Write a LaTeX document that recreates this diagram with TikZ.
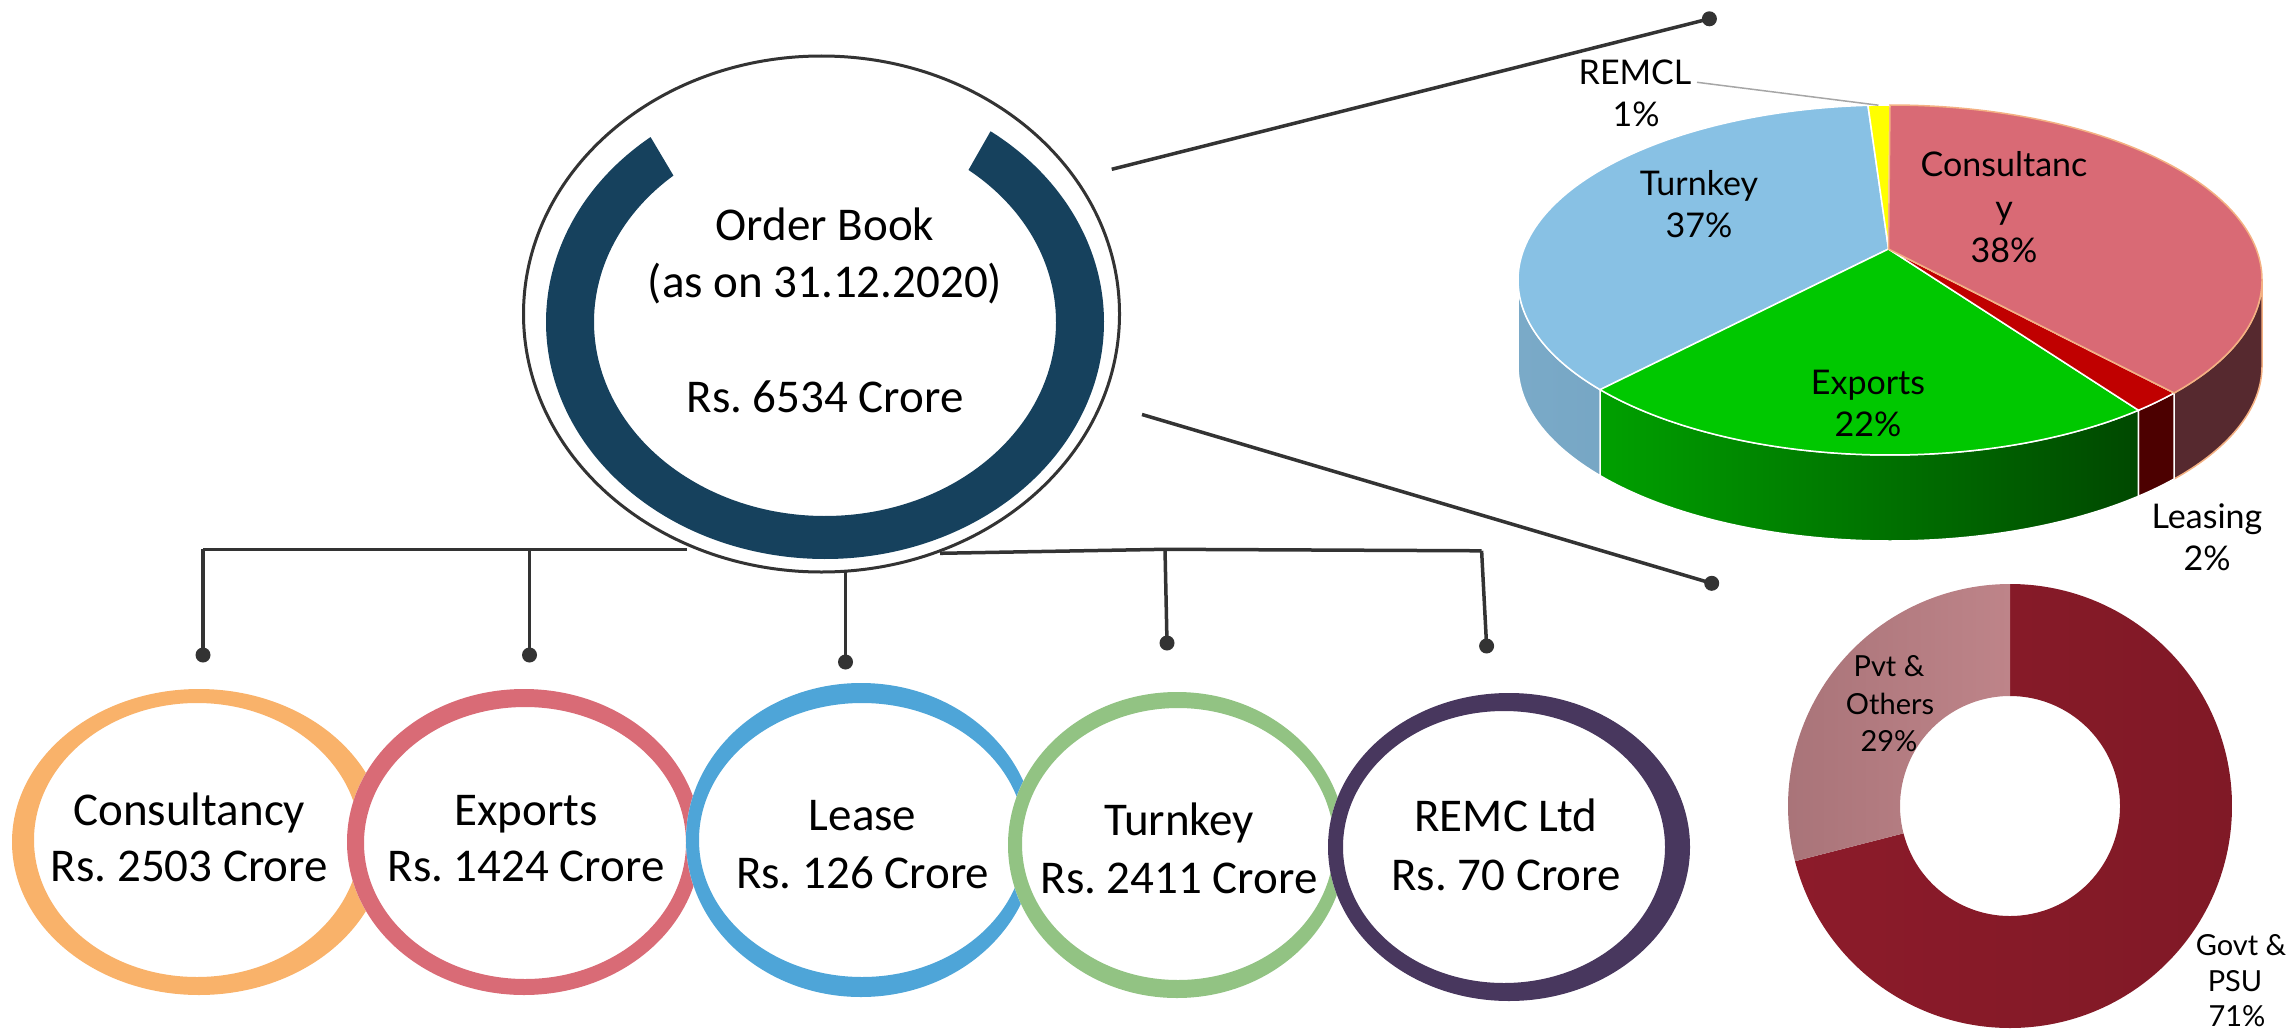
\documentclass[tikz,border=0pt]{standalone}
\usepackage{fontspec}
\setmainfont{Carlito}
\newfontfamily\gillfont{Lato}
\usetikzlibrary{shapes.geometric,calc}
\frenchspacing
\definecolor{lineg}{RGB}{51,51,51}
\definecolor{arcblue}{RGB}{22,65,93}
\definecolor{ringor}{RGB}{249,178,106}
\definecolor{ringred}{RGB}{217,107,118}
\definecolor{ringblue}{RGB}{78,165,216}
\definecolor{ringgreen}{RGB}{146,195,131}
\definecolor{ringpurple}{RGB}{72,55,94}
\definecolor{piecons}{RGB}{217,106,117}
\definecolor{piecside}{RGB}{86,41,47}
\definecolor{pielease}{RGB}{192,0,0}
\definecolor{pielside}{RGB}{76,0,0}
\definecolor{pieexp}{RGB}{0,200,0}
\definecolor{pieexpL}{RGB}{0,160,0}
\definecolor{pieexpR}{RGB}{0,72,0}
\definecolor{pieturn}{RGB}{136,193,228}
\definecolor{pietsL}{RGB}{122,170,200}
\definecolor{pietsR}{RGB}{108,154,185}
\definecolor{pieremcl}{RGB}{255,255,0}
\definecolor{consedge}{RGB}{244,177,131}
\definecolor{govL}{RGB}{140,27,42}
\definecolor{govM}{RGB}{152,28,44}
\definecolor{govR}{RGB}{128,25,38}
\definecolor{pvtL}{RGB}{168,115,120}
\definecolor{pvtR}{RGB}{190,132,137}
\definecolor{leader}{RGB}{166,166,166}
\begin{document}
\begin{tikzpicture}[x=1pt,y=-1pt,
  conn/.style={draw=lineg, line width=3.5pt},
  dotn/.style={circle, fill=lineg, inner sep=0pt, minimum size=15pt},
  btxt/.style={font=\fontsize{47}{57}\selectfont, anchor=base, inner sep=0pt},
  ptxt/.style={font=\gillfont\fontsize{34}{40}\selectfont, anchor=base, inner sep=0pt},
  dtxt/.style={font=\gillfont\fontsize{29}{34}\selectfont, anchor=base, inner sep=0pt},
  slice/.style={draw=white, line width=1.5pt},
]
\useasboundingbox (0,0) rectangle (2291,1033);

% ---------- main order book circle ----------
\node[draw=lineg, line width=3pt, ellipse, minimum width=596pt, minimum height=516pt, inner sep=0pt] (ob) at (821.5,314) {};
\fill[arcblue] (825,322) ++(231.3:279 and 237)
  arc[start angle=231.3, end angle=-53.6, x radius=279, y radius=237]
  -- ($(825,322)+(-51.6:231 and 194)$)
  arc[start angle=-51.6, end angle=229, x radius=231, y radius=194] -- cycle;
\node[btxt] (ob1) at (825,240) {Order Book};
\node[btxt] (ob2) at (825,297.6) {(as on 31.12.2020)};
\node[btxt] (ob3) at (825,412.3) {Rs. 6534 Crore};

% ---------- connectors ----------
\coordinate (busL) at (687,549.4);
\coordinate (busR) at (940,553.3);
\coordinate (j1) at (203,549.4);
\coordinate (j2) at (529.5,549.4);
\coordinate (j3) at (845.5,571);
\coordinate (j4) at (1165,549.3);
\coordinate (j5) at (1481.6,550.8);
\node[dotn] (d1) at (203,655) {};
\node[dotn] (d2) at (529.5,655) {};
\node[dotn] (d3) at (845.5,662) {};
\node[dotn] (d4) at (1167,643) {};
\node[dotn] (d5) at (1486.6,646) {};
\draw[conn] (busL) -- (j1);
\draw[conn] (busR) -- (j4) -- (j5);
\draw[conn] (j1) -- (d1.center);
\draw[conn] (j2) -- (d2.center);
\draw[conn] (j3) -- (d3.center);
\draw[conn] (j4) -- (d4.center);
\draw[conn] (j5) -- (d5.center);
\coordinate (tlS) at (1111.7,169.3);
\coordinate (blS) at (1142,414.5);
\node[dotn] (pdt) at (1709.4,18.8) {};
\node[dotn] (pdb) at (1711.7,583.3) {};
\draw[conn] (tlS) -- (pdt.center);
\draw[conn] (blS) -- (pdb.center);

% ---------- bottom rings ----------
\fill[white] (199,842) ellipse (187 and 153);
\fill[ringor, even odd rule] (199,842) ellipse (187 and 153) (197,840) ellipse (163 and 137);
\fill[white] (524,842) ellipse (177 and 153);
\fill[ringred, even odd rule] (524,842) ellipse (177 and 153) (525,843) ellipse (161 and 136);
\fill[white] (861,840) ellipse (175 and 157);
\fill[ringblue, even odd rule] (861,840) ellipse (175 and 157) (862,840) ellipse (163 and 137);
\fill[white] (1177,845) ellipse (169 and 153);
\fill[ringgreen, even odd rule] (1177,845) ellipse (169 and 153) (1178,844) ellipse (156 and 136);
\fill[white] (1509,847) ellipse (181 and 154);
\fill[ringpurple, even odd rule] (1509,847) ellipse (181 and 154) (1504,847) ellipse (161 and 136);

\node[btxt] (c1a) at (189.4,825) {Consultancy};
\node[btxt] (c1b) at (189.4,881.7) {Rs. 2503 Crore};
\node[btxt] (c2a) at (526,825) {Exports};
\node[btxt] (c2b) at (526,881.7) {Rs. 1424 Crore};
\node[btxt] (c3a) at (862.6,830) {Lease};
\node[btxt] (c3b) at (862.6,888.3) {Rs. 126 Crore};
\node[btxt] (c4a) at (1179,835) {Turnkey};
\node[btxt] (c4b) at (1179,893.3) {Rs. 2411 Crore};
\node[btxt] (c5a) at (1506,831.7) {REMC Ltd};
\node[btxt] (c5b) at (1506,890) {Rs. 70 Crore};

% ---------- 3D pie ----------
\coordinate (pieO) at (1890,280);
\coordinate (pieP) at (1888.5,249);
% sides
\filldraw[fill=piecside, draw=consedge, line width=1.5pt] (pieO) ++(0:372 and 175)
  arc[start angle=0, end angle=40.2, x radius=372, y radius=175] -- ++(0,86)
  arc[start angle=40.2, end angle=0, x radius=372, y radius=175] -- cycle;
\filldraw[fill=pielside, slice] (pieO) ++(40.2:372 and 175)
  arc[start angle=40.2, end angle=48.1, x radius=372, y radius=175] -- ++(0,86)
  arc[start angle=48.1, end angle=40.2, x radius=372, y radius=175] -- cycle;
\shadedraw[left color=pieexpL, right color=pieexpR, slice] (pieO) ++(48.1:372 and 175)
  arc[start angle=48.1, end angle=141.2, x radius=372, y radius=175] -- ++(0,86)
  arc[start angle=141.2, end angle=48.1, x radius=372, y radius=175] -- cycle;
\shadedraw[left color=pietsL, right color=pietsR, slice] (pieO) ++(141.2:372 and 175)
  arc[start angle=141.2, end angle=180, x radius=372, y radius=175] -- ++(0,86)
  arc[start angle=180, end angle=141.2, x radius=372, y radius=175] -- cycle;
% tops
\filldraw[fill=pieturn, slice] (pieP) -- ($(pieO)+(141.2:372 and 175)$)
  arc[start angle=141.2, end angle=266.6, x radius=372, y radius=175] -- cycle;
\filldraw[fill=pieexp, slice] (pieP) -- ($(pieO)+(48.1:372 and 175)$)
  arc[start angle=48.1, end angle=141.2, x radius=372, y radius=175] -- cycle;
\filldraw[fill=pielease, slice] (pieP) -- ($(pieO)+(40.2:372 and 175)$)
  arc[start angle=40.2, end angle=48.1, x radius=372, y radius=175] -- cycle;
\filldraw[fill=pieremcl, slice] (pieP) -- ($(pieO)+(266.6:372 and 175)$)
  arc[start angle=266.6, end angle=270, x radius=372, y radius=175] -- cycle;
\filldraw[fill=piecons, draw=consedge, line width=1.5pt] (pieP) -- ($(pieO)+(-90:372 and 175)$)
  arc[start angle=-90, end angle=40.2, x radius=372, y radius=175] -- cycle;
% labels
\coordinate (ldA) at (1697,82.3);
\coordinate (ldB) at (1878.4,105.2);
\draw[leader, line width=1.5pt] (ldA) -- (ldB);
\node[ptxt] (pl1a) at (1635,84.2) {REMCL};
\node[ptxt] (pl1b) at (1636,126.3) {1\%};
\node[ptxt] (pl2a) at (1699,195) {Turnkey};
\node[ptxt] (pl2b) at (1699,237) {37\%};
\node[ptxt] (pl3a) at (2004,176) {Consultanc};
\node[ptxt] (pl3b) at (2004,219) {y};
\node[ptxt] (pl3c) at (2004,262) {38\%};
\node[ptxt] (pl4a) at (1868,394) {Exports};
\node[ptxt] (pl4b) at (1868,436) {22\%};
\node[ptxt] (pl5a) at (2207,528) {Leasing};
\node[ptxt] (pl5b) at (2207,570) {2\%};

% ---------- donut ----------
\coordinate (dO) at (2010,806);
\shade[left color=govL, middle color=govM, right color=govR] (dO) ++(-90:222)
  arc[start angle=-90, end angle=165.6, radius=222]
  -- ($(dO)+(165.6:110)$)
  arc[start angle=165.6, end angle=-90, radius=110] -- cycle;
\shade[left color=pvtL, right color=pvtR] (dO) ++(165.6:222)
  arc[start angle=165.6, end angle=270, radius=222]
  -- ($(dO)+(270:110)$)
  arc[start angle=270, end angle=165.6, radius=110] -- cycle;
\node[dtxt] (dl1a) at (1889,676.7) {Pvt \&};
\node[dtxt] (dl1b) at (1890,714.5) {Others};
\node[dtxt] (dl1c) at (1889,751.7) {29\%};
\node[dtxt] (dl2a) at (2241,955) {Govt \&};
\node[dtxt] (dl2b) at (2235,991.7) {PSU};
\node[dtxt] (dl2c) at (2237,1026.7) {71\%};
\end{tikzpicture}
\end{document}
